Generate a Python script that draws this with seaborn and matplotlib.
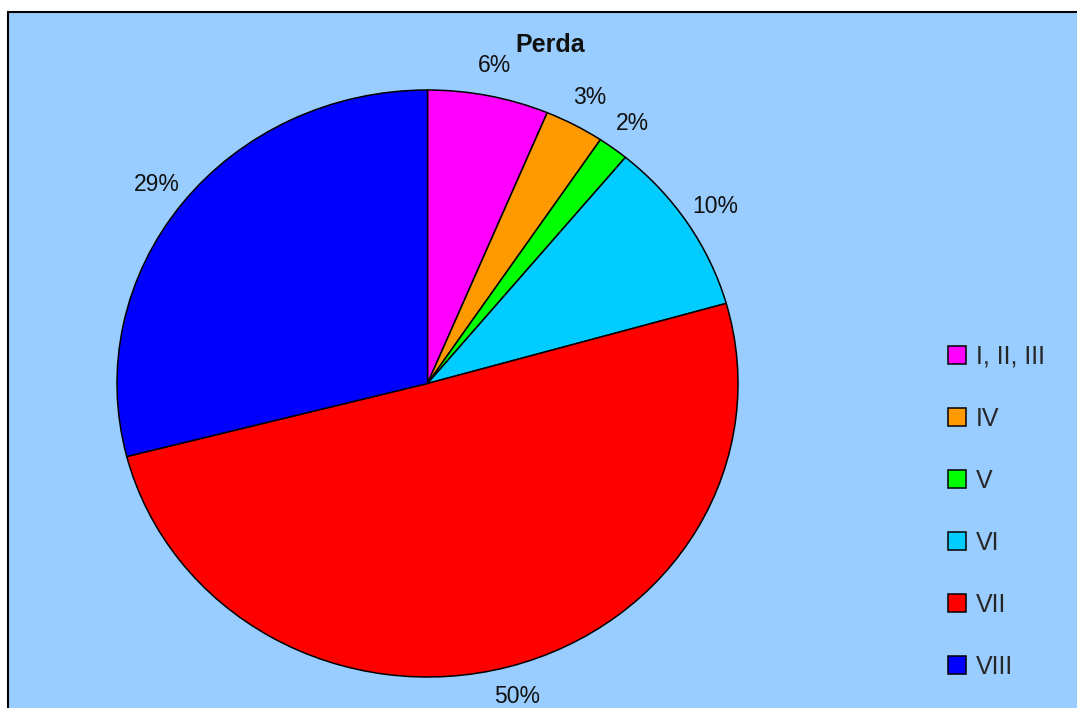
import matplotlib
matplotlib.use("Agg")
import matplotlib.pyplot as plt
import seaborn as sns
from matplotlib.patches import Rectangle, Patch

categories = ["I, II, III", "IV", "V", "VI", "VII", "VIII"]
values = [6.3, 3.1, 1.6, 9.6, 50.4, 29.0]
colors = ["#FF00FF", "#FF9900", "#00FF00", "#00CCFF", "#FF0000", "#0000FF"]
title = "Perda"

sns.set_style("white")
plt.rcParams["font.family"] = ["Liberation Sans", "DejaVu Sans"]

W, H = 1077, 708
fig = plt.figure(figsize=(W / 100, H / 100), dpi=100, facecolor="white")

# chart area background with border
fig.patches.append(Rectangle((8 / W, -0.05), 1.1, (H - 12) / H + 0.05,
                             transform=fig.transFigure, facecolor="#99CCFF",
                             edgecolor="black", linewidth=1.5, zorder=-5))

cx, cy, rx, ry = 427.5, 383.5, 310.5, 293.5
ax = fig.add_axes([(cx - rx) / W, (H - cy - ry) / H, 2 * rx / W, 2 * ry / H])
ax.set_zorder(2)
wedges, texts, autotexts = ax.pie(
    values, colors=colors, startangle=90, counterclock=False,
    autopct="%1.0f%%", pctdistance=1.105,
    wedgeprops=dict(edgecolor="black", linewidth=1.1),
    textprops=dict(fontsize=16.5, color="#111111"))
ax.set_aspect("auto")
ax.set_xlim(-1, 1)
ax.set_ylim(-1, 1)
ax.axis("off")
ax.patch.set_alpha(0)

fig.text(550 / W, 1 - 45 / H, title, ha="center", va="center",
         fontsize=18, fontweight="bold", color="#111111")

handles = [Patch(facecolor=c, edgecolor="black", linewidth=1.1) for c in colors]
fig.legend(handles, categories, loc="upper left",
           bbox_to_anchor=(930 / W, 1 - 327 / H), frameon=False,
           fontsize=18, handlelength=0.72, handleheight=0.72,
           handletextpad=0.42, labelspacing=1.52, borderpad=0.2)

fig.savefig("out.png", dpi=100, facecolor="white")
